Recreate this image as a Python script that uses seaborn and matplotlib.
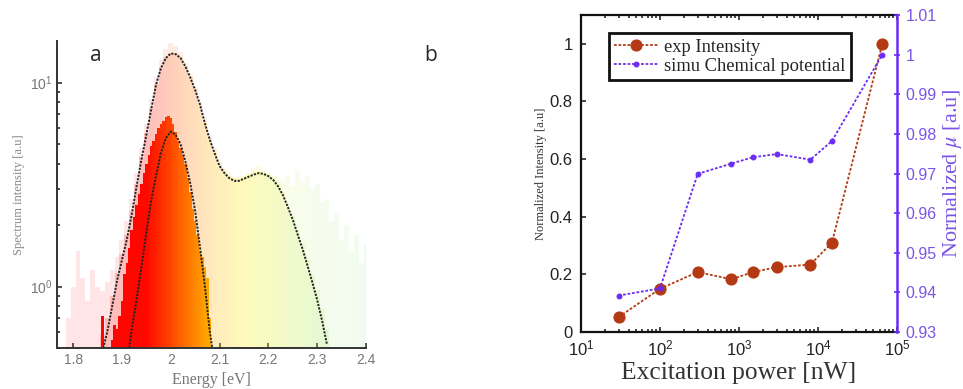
import numpy as np
import seaborn as sns
import matplotlib.pyplot as plt
from matplotlib.colors import LinearSegmentedColormap
from matplotlib.ticker import LogLocator, FormatStrFormatter, NullFormatter, MultipleLocator

# ---- panel a: spectra ----
# all spectra overlaid (noisy envelope), 0.01 eV bins
all_energy = np.round(np.arange(1.79, 2.405, 0.01), 3)
all_spec = [0.6, 0.9, 1.4, 1.0, 0.75, 1.1, 0.9, 0.85, 0.95, 1.1,
            1.3, 1.6, 2.0, 2.6, 3.5, 4.7, 6.2, 8.2, 10.5, 12.8,
            14.5, 15.5, 15.0, 14.0, 12.5, 11.0, 9.4, 8.0, 6.7, 5.5,
            4.7, 4.1, 3.7, 3.5, 3.3, 3.3, 3.4, 3.5, 3.7, 3.8,
            3.6, 3.5, 3.4, 3.3, 3.2, 3.4, 3.0, 3.6, 3.2, 3.4,
            2.9, 3.1, 2.5, 2.6, 2.0, 2.2, 1.6, 1.9, 1.4, 1.7,
            1.2, 1.5]

# low power spectrum, 0.005 eV bins
low_energy = np.round(np.arange(1.86, 2.0825, 0.005), 4)
low_spec = [0.62, 0.4, 0.4, 0.4, 0.45, 0.55, 0.52, 0.62, 0.75, 1.05,
            1.2, 1.45, 1.8, 2.1, 2.4, 2.75, 3.1, 3.5, 3.9, 4.3,
            4.8, 5.1, 5.5, 5.9, 6.2, 6.4, 6.7, 6.8, 6.6, 6.2,
            5.6, 5.1, 4.7, 4.3, 3.9, 3.3, 2.8, 2.3, 2.0, 1.7,
            1.4, 1.3, 1.15, 1.0, 0.6]

# fitted curves
fit_hi_energy = np.round(np.arange(1.86, 2.325, 0.01), 3)
fit_hi = [0.48, 0.6, 0.8, 1.07, 1.35, 1.7, 2.25, 3.1, 4.2, 5.55,
          7.4, 9.8, 11.8, 13.2, 13.9, 13.8, 13.2, 12.0, 10.6, 9.2,
          7.8, 6.3, 5.25, 4.5, 3.9, 3.6, 3.4, 3.3, 3.3, 3.38,
          3.46, 3.54, 3.6, 3.57, 3.48, 3.33, 3.1, 2.8, 2.45, 2.13,
          1.8, 1.53, 1.27, 1.05, 0.86, 0.68, 0.52]
fit_lo_energy = [1.915, 1.92, 1.93, 1.94, 1.95, 1.96, 1.97, 1.98, 1.99, 2.00,
                 2.01, 2.02, 2.03, 2.04, 2.05, 2.06, 2.07, 2.08, 2.085]
fit_lo = [0.5, 0.62, 0.86, 1.25, 1.85, 2.65, 3.5, 4.55, 5.35, 5.75,
          5.55, 5.0, 4.1, 3.2, 2.35, 1.55, 1.0, 0.6, 0.5]

# ---- panel b: power series ----
power = [30, 100, 300, 800, 1500, 3000, 8000, 15000, 65000]
exp_intensity = [0.052, 0.15, 0.208, 0.183, 0.208, 0.225, 0.234, 0.31, 1.0]
simu_mu = [0.9392, 0.941, 0.9699, 0.9725, 0.9741, 0.9749, 0.9735, 0.9782, 1.0]

serif = ['Liberation Serif', 'DejaVu Serif']
sans = ['Liberation Sans', 'DejaVu Sans']

sns.set_style("ticks")
plt.rcParams['font.family'] = sans
plt.rcParams['mathtext.fontset'] = 'stix'

# spectral colours by photon energy
stops = [(1.78, '#FF0000'), (1.95, '#FF0800'), (2.00, '#FF4800'), (2.04, '#FF7A00'),
         (2.075, '#FFA800'), (2.15, '#FFF000'), (2.25, '#C8F040'), (2.40, '#70E070')]
e0, e1 = stops[0][0], stops[-1][0]
cmap = LinearSegmentedColormap.from_list(
    'spec', [((e - e0) / (e1 - e0), c) for e, c in stops])


def ecol(e, alpha=1.0):
    r, g, b, _ = cmap((np.asarray(e) - e0) / (e1 - e0)).T
    return np.stack([r, g, b, np.full_like(r, alpha)], axis=1)


fig = plt.figure(figsize=(9.63, 3.89), dpi=100)
ax = fig.add_axes([0.0592, 0.1054, 0.3209, 0.7892])

ax.bar(all_energy, all_spec, width=0.01, bottom=0.1, color=ecol(all_energy, 0.1),
       linewidth=0, antialiased=False)
ax.bar(fit_hi_energy, fit_hi, width=0.01, bottom=0.1, color=ecol(fit_hi_energy, 0.18),
       linewidth=0, antialiased=False)
ax.bar(low_energy, low_spec, width=0.005, bottom=0.1, color=ecol(low_energy),
       linewidth=0, antialiased=False)
dots = (0, (1.1, 0.7))
sns.lineplot(x=fit_hi_energy, y=fit_hi, ax=ax, color='#222222', linestyle=dots, lw=1.4)
sns.lineplot(x=fit_lo_energy, y=fit_lo, ax=ax, color='#222222', linestyle=dots, lw=1.4)

ax.set_yscale('log')
ax.set_ylim(0.5, 16)
ax.set_xlim(1.767, 2.40)
ax.set_xticks([1.8, 1.9, 2.0, 2.1, 2.2, 2.3, 2.4])
ax.xaxis.set_major_formatter(FormatStrFormatter('%g'))
ax.yaxis.set_major_locator(LogLocator(base=10))
ax.yaxis.set_minor_locator(LogLocator(base=10, subs=np.arange(2, 10)))
ax.yaxis.set_minor_formatter(NullFormatter())
ax.tick_params(direction='in', colors='#333333', labelcolor='#777777', labelsize=10, width=1.2)
ax.tick_params(which='minor', direction='in', length=2.5, width=1.2)
ax.spines['top'].set_visible(False)
ax.spines['right'].set_visible(False)
for s in ['left', 'bottom']:
    ax.spines[s].set_linewidth(1.4)
    ax.spines[s].set_color('#333333')
ax.set_xlabel('Energy [eV]', family=serif, fontsize=11.5, color='#777777', labelpad=4)
ax.set_ylabel('Spectrum intensity [a.u]', family=serif, fontsize=9, color='#888888', labelpad=3)

fig.text(0.1, 0.858, 'a', family=['Open Sans', 'DejaVu Sans'], fontsize=15, ha='center', va='center')
fig.text(0.447, 0.858, 'b', family=['Open Sans', 'DejaVu Sans'], fontsize=15, ha='center', va='center')

# ---- panel b ----
exp_col = '#B33A14'
mu_col = '#6A2BF5'
axb = fig.add_axes([0.6033, 0.1465, 0.3282, 0.8149])
axr = axb.twinx()

sns.lineplot(x=power, y=exp_intensity, ax=axb, color=exp_col, linestyle=(0, (1.5, 1)), lw=1.3,
             marker='o', markersize=8, markeredgecolor=exp_col, label='exp Intensity',
             legend=False)
sns.lineplot(x=power, y=simu_mu, ax=axr, color=mu_col, linestyle=(0, (1.5, 1)), lw=1.3,
             marker='o', markersize=3.5, markeredgecolor=mu_col,
             label='simu Chemical potential', legend=False)

axb.set_xscale('log')
axb.set_xlim(10, 1e5)
axb.set_ylim(0, 1.1)
axr.set_ylim(0.93, 1.01)
axb.xaxis.set_minor_locator(LogLocator(base=10, subs=np.arange(2, 10)))
axb.xaxis.set_minor_formatter(NullFormatter())
axb.yaxis.set_major_locator(MultipleLocator(0.2))
axb.yaxis.set_major_formatter(FormatStrFormatter('%g'))
axr.yaxis.set_major_locator(MultipleLocator(0.01))
axr.yaxis.set_major_formatter(FormatStrFormatter('%g'))
axb.tick_params(direction='in', top=True, labelsize=12, labelcolor='#222222', width=1.2)
axb.tick_params(which='minor', direction='in', top=True, length=2.5, width=1.2)
axb.tick_params(axis='y', right=False, pad=6)
axb.tick_params(axis='x', pad=5)
axr.tick_params(axis='y', direction='inout', colors=mu_col, labelcolor='#7A55E6',
                labelsize=11.5, width=1.2, length=5)
for s in ['left', 'bottom', 'top']:
    axb.spines[s].set_linewidth(1.6)
    axb.spines[s].set_color('#111111')
for s in ['left', 'bottom', 'top']:
    axr.spines[s].set_visible(False)
axr.spines['right'].set_color(mu_col)
axr.spines['right'].set_linewidth(1.8)
axb.spines['right'].set_visible(False)

axb.set_xlabel('Excitation power [nW]', family=serif, fontsize=18.4, color='#333333', labelpad=2)
axb.set_ylabel('Normalized Intensity [a.u]', family=serif, fontsize=9, color='#333333', labelpad=2)
axr.set_ylabel(r'Normalized $\mu$ [a.u]', family=serif, fontsize=16, color='#7A55E6', labelpad=3)

h1, l1 = axb.get_legend_handles_labels()
h2, l2 = axr.get_legend_handles_labels()
leg = axr.legend(h1 + h2, l1 + l2, loc='upper left', bbox_to_anchor=(0.088, 0.942),
                 borderaxespad=0, fancybox=False, framealpha=1, edgecolor='#111111',
                 prop={'family': serif, 'size': 13.3}, handlelength=2.4,
                 handletextpad=0.3, borderpad=0.3, labelspacing=0.1)
leg.get_frame().set_linewidth(2)

fig.savefig('out.png', dpi=100)
